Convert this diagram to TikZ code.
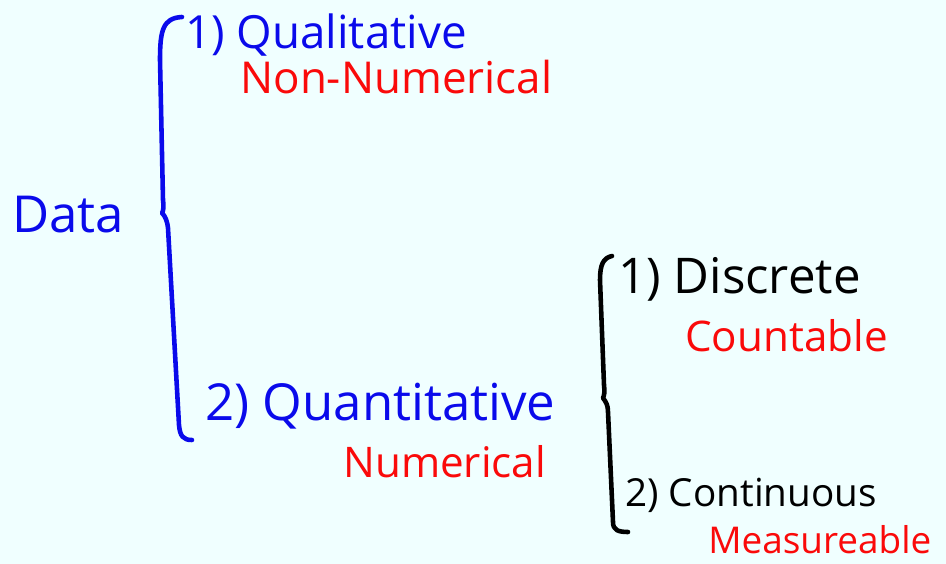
\documentclass[tikz,border=0pt]{standalone}
\usepackage{fontspec}
\setmainfont{Open Sans}
\definecolor{paper}{RGB}{240,255,255}
\definecolor{pen blue}{RGB}{10,10,235}
\definecolor{pen red}{RGB}{250,10,10}
\begin{document}
\begin{tikzpicture}[
  x=0.02cm,
  y=-0.02cm,
  fs/.style={font=\fontsize{#1}{#1}\selectfont},
  item/.style={inner sep=0pt, anchor=west},
  topic/.style={item, text=pen blue},
  kind/.style={item, text=black},
  gloss/.style={item, text=pen red},
  brace/.style={line width=2.6pt, line cap=round, line join=round}
]
\fill[paper] (0,0) rectangle (946,564);
\useasboundingbox (0,0) rectangle (946,564);

\node[topic, fs=29] (data) at (12,215) {Data};

% first split
\node[topic, fs=26] (qual) at (185,35) {1) Qualitative};
\node[gloss, fs=25] (nonnum) at (240,77) {Non-Numerical};
\node[topic, fs=29] (quant) at (205,406) {2) Quantitative};
\node[gloss, fs=24] (num) at (343,462) {Numerical};

\coordinate (b1top) at (182,17);
\coordinate (b1mid) at (162,213);
\coordinate (b1bot) at (192,440);
\draw[brace, pen blue] (b1top) .. controls (163,18) and (160,30) .. (160,60)
  -- (163,200) .. controls (164,208) and (163,212) .. (b1mid)
  .. controls (165,216) and (167,220) .. (168,228)
  -- (179,425) .. controls (180,436) and (183,440) .. (b1bot);

% second split
\node[kind, fs=28] (disc) at (618,279) {1) Discrete};
\node[gloss, fs=24] (count) at (685,336) {Countable};
\node[kind, fs=22] (cont) at (625,495) {2) Continuous};
\node[gloss, fs=21] (meas) at (708,540) {Measureable};

\coordinate (b2top) at (612,256);
\coordinate (b2mid) at (603,398);
\coordinate (b2bot) at (628,532);
\draw[brace, black] (b2top) .. controls (603,258) and (600,265) .. (600,280)
  -- (604,385) .. controls (605,392) and (604,396) .. (b2mid)
  .. controls (606,402) and (608,405) .. (608,412)
  -- (613,522) .. controls (613,530) and (618,532) .. (b2bot);
\end{tikzpicture}
\end{document}
